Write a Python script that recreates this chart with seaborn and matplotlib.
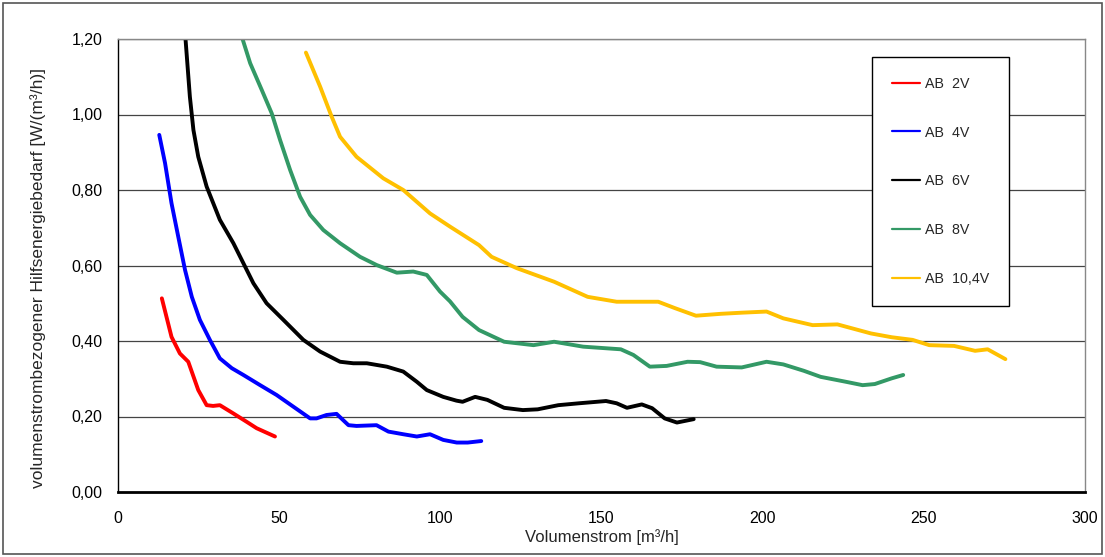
import matplotlib
matplotlib.use("Agg")
import matplotlib.pyplot as plt
import seaborn as sns
import pandas as pd
from matplotlib.patches import Rectangle

# ---- data ----
x_2v = [13.6, 16.6, 19.2, 21.8, 24.9, 27.5, 29.5, 31.6, 35.8, 39.9, 43.0, 48.7]
y_2v = [0.513, 0.411, 0.367, 0.345, 0.270, 0.230, 0.228, 0.230, 0.208, 0.186, 0.169, 0.147]

x_4v = [12.8, 14.6, 16.6, 18.7, 20.8, 22.9, 25.4, 28.5, 31.6, 35.3, 38.9, 44.1, 49.2,
        54.4, 59.6, 61.6, 64.7, 67.8, 71.5, 74.0, 80.2, 83.9, 88.5, 92.7, 96.8, 100.9,
        105.1, 108.5, 112.7]
y_4v = [0.946, 0.871, 0.765, 0.676, 0.588, 0.517, 0.456, 0.403, 0.354, 0.328, 0.310,
        0.283, 0.257, 0.226, 0.195, 0.195, 0.204, 0.207, 0.177, 0.175, 0.177, 0.160,
        0.153, 0.147, 0.153, 0.138, 0.131, 0.131, 0.135]

x_6v = [20.5, 22.3, 23.4, 24.9, 27.5, 31.6, 35.8, 38.9, 42.0, 46.1, 51.3, 57.5, 62.7,
        68.9, 73.0, 77.2, 83.4, 88.5, 92.7, 95.8, 100.9, 105.0, 106.9, 110.8, 114.6,
        119.8, 125.6, 130.2, 136.6, 143.0, 151.4, 154.7, 157.9, 162.5, 165.7, 169.6,
        173.4, 178.6]
y_6v = [1.25, 1.047, 0.959, 0.888, 0.809, 0.721, 0.659, 0.606, 0.553, 0.500, 0.456,
        0.403, 0.372, 0.345, 0.341, 0.341, 0.332, 0.319, 0.292, 0.270, 0.252, 0.242,
        0.239, 0.252, 0.244, 0.223, 0.217, 0.219, 0.230, 0.235, 0.241, 0.235, 0.223,
        0.232, 0.222, 0.195, 0.184, 0.193]

x_8v = [37.9, 41.0, 44.6, 47.7, 50.3, 53.4, 56.5, 59.6, 63.7, 68.9, 75.1, 80.3, 86.5,
        91.6, 95.8, 99.9, 103.0, 106.9, 112.0, 119.8, 128.9, 135.3, 144.3, 156.0,
        159.9, 165.0, 170.2, 176.7, 180.6, 185.7, 193.5, 201.2, 206.4, 212.8, 218.0,
        225.8, 231.0, 234.8, 240.0, 243.6]
y_8v = [1.22, 1.136, 1.065, 1.003, 0.932, 0.853, 0.782, 0.734, 0.694, 0.659, 0.623,
        0.601, 0.581, 0.584, 0.575, 0.531, 0.505, 0.464, 0.429, 0.398, 0.389, 0.398,
        0.385, 0.378, 0.363, 0.332, 0.334, 0.345, 0.344, 0.332, 0.330, 0.345, 0.338,
        0.321, 0.305, 0.292, 0.283, 0.286, 0.301, 0.310]

x_104v = [58.3, 62.7, 66.3, 68.9, 74.0, 82.3, 88.5, 96.8, 103.0, 112.0, 115.9, 123.7,
          135.3, 145.7, 154.7, 167.6, 172.8, 179.3, 187.0, 193.5, 201.2, 206.4, 215.5,
          223.2, 228.4, 233.6, 240.0, 246.5, 251.7, 259.4, 265.9, 269.8, 275.3]
y_104v = [1.164, 1.074, 0.994, 0.941, 0.888, 0.831, 0.800, 0.738, 0.703, 0.654, 0.623,
          0.593, 0.557, 0.517, 0.504, 0.504, 0.487, 0.467, 0.472, 0.475, 0.478, 0.460,
          0.442, 0.444, 0.432, 0.420, 0.410, 0.403, 0.389, 0.387, 0.374, 0.378, 0.352]

series_names = ["AB  2V", "AB  4V", "AB  6V", "AB  8V", "AB  10,4V"]
series_x = [x_2v, x_4v, x_6v, x_8v, x_104v]
series_y = [y_2v, y_4v, y_6v, y_8v, y_104v]
colors = ["#FF0000", "#0000FF", "#000000", "#339966", "#FFC000"]

x_ticks = [0, 50, 100, 150, 200, 250, 300]
y_ticks = [0.0, 0.2, 0.4, 0.6, 0.8, 1.0, 1.2]
y_tick_labels = ["0,00", "0,20", "0,40", "0,60", "0,80", "1,00", "1,20"]
x_label = "Volumenstrom [m³/h]"
y_label = "volumenstrombezogener Hilfsenergiebedarf [W/(m³/h)]"

frames = []
for name, xs, ys in zip(series_names, series_x, series_y):
    frames.append(pd.DataFrame({"x": xs, "y": ys, "series": name}))
df = pd.concat(frames, ignore_index=True)

# ---- plot ----
sns.set_theme(style="white")
plt.rcParams["font.family"] = ["Liberation Sans", "DejaVu Sans"]

fig = plt.figure(figsize=(11.05, 5.57), dpi=100)
ax = fig.add_axes([118 / 1105, 65 / 557, (1085 - 118) / 1105, (492 - 39) / 557])

for yt in y_ticks[1:]:
    ax.axhline(yt, color="#444444", lw=0.9, zorder=0)

for name, c in zip(series_names, colors):
    sub = df[df["series"] == name]
    sns.lineplot(data=sub, x="x", y="y", sort=False, estimator=None, ax=ax,
                 color=c, lw=2.8, legend=False)

ax.set_xlim(0, 300)
ax.set_ylim(0, 1.2)
ax.set_xticks(x_ticks)
ax.set_xticklabels([str(v) for v in x_ticks])
ax.set_yticks(y_ticks)
ax.set_yticklabels(y_tick_labels)
ax.tick_params(axis="both", which="major", labelsize=11.5, length=5, width=0.9,
               direction="out", colors="black")
ax.tick_params(axis="y", pad=6)
ax.tick_params(axis="x", pad=9)
ax.set_xlabel(x_label, fontsize=12, labelpad=2)
ax.set_ylabel(y_label, fontsize=12.5)
ax.yaxis.set_label_coords(-0.0745, 0.472)

for side in ["top", "right"]:
    ax.spines[side].set_color("#888888")
    ax.spines[side].set_linewidth(1.0)
ax.spines["left"].set_color("black")
ax.spines["left"].set_linewidth(1.0)
ax.spines["bottom"].set_color("black")
ax.spines["bottom"].set_linewidth(2.0)

handles = [plt.Line2D([], [], color=c, lw=1.6) for c in colors]
leg = ax.legend(handles, series_names, loc="upper left",
                bbox_to_anchor=(872 / 1105, 1 - 57 / 557), bbox_transform=fig.transFigure,
                frameon=True, fancybox=False, edgecolor="black", facecolor="white",
                framealpha=1, fontsize=10.3, labelspacing=2.43, handlelength=2.0,
                handletextpad=0.3, borderpad=1.38, borderaxespad=0)
leg.get_frame().set_linewidth(1.0)

fig.add_artist(Rectangle((3 / 1105, 3 / 557), 1 - 6 / 1105, 1 - 6 / 557,
                         transform=fig.transFigure, fill=False, edgecolor="#555555", lw=1.2))

fig.savefig("out.png", dpi=100)
